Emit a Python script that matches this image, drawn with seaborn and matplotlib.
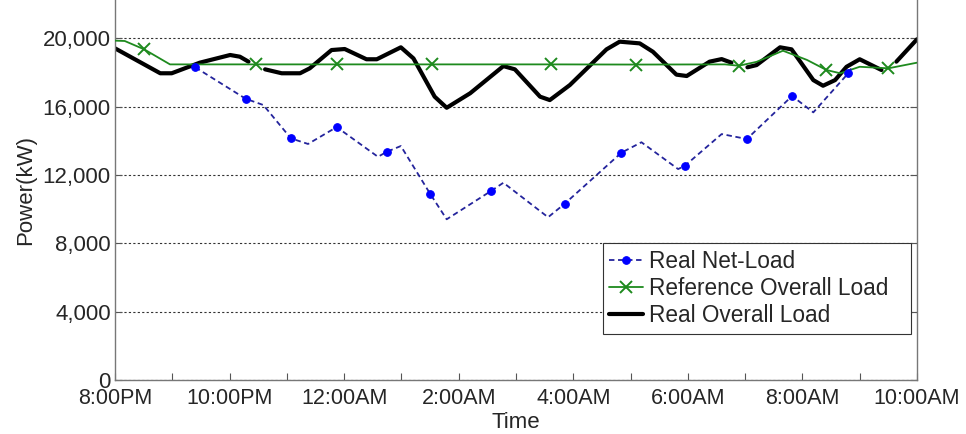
import numpy as np
import pandas as pd
import seaborn as sns
import matplotlib
matplotlib.use("Agg")
import matplotlib.pyplot as plt

# hours after 8:00PM, power in kW
net_hours = [1.40, 2.28, 2.59, 3.07, 3.37, 3.87, 4.59, 4.75, 4.99, 5.50, 5.79, 6.57,
             6.78, 7.56, 7.85, 8.84, 9.19, 9.83, 9.95, 10.59, 11.03, 11.82, 12.19,
             12.80, 12.88]
net_load = [18310, 16470, 16100, 14150, 13820, 14810, 13070, 13370, 13700, 10910,
            9410, 11080, 11550, 9530, 10320, 13310, 13920, 12350, 12550, 14400,
            14110, 16630, 15670, 17960, 18400]
net_marks = [0, 1, 3, 5, 7, 9, 11, 14, 15, 18, 20, 21, 23]

ref_hours = [0.0, 0.17, 0.51, 0.96, 2.47, 3.87, 5.53, 7.61, 9.09, 10.65, 10.89,
             11.20, 11.66, 12.08, 12.42, 12.66, 13.00, 13.50, 14.0]
ref_load = [19870, 19850, 19360, 18480, 18480, 18480, 18480, 18480, 18470, 18480,
            18400, 18630, 19280, 18740, 18150, 17960, 18340, 18250, 18580]
ref_marks = [2, 4, 5, 6, 7, 8, 10, 14, 17]

real_hours = [0.0, 0.79, 0.99, 1.48, 2.01, 2.18, 2.33,
              2.62, 2.91, 3.23, 3.40, 3.78, 4.01, 4.39, 4.57, 4.99, 5.21, 5.58, 5.79,
              6.20, 6.78, 6.98, 7.42, 7.59, 7.94, 8.58, 8.81, 9.16, 9.39, 9.80, 9.98,
              10.38, 10.59, 10.76,
              11.04, 11.20, 11.61, 11.81, 12.19, 12.36, 12.57, 12.77, 13.00, 13.38,
              13.64, 14.0]
real_load = [19420, 17960, 17960, 18580, 19030, 18930, 18640,
             18190, 17960, 17960, 18250, 19320, 19380, 18780, 18780, 19480, 18830,
             16590, 15940, 16790, 18380, 18190, 16590, 16390, 17270, 19360, 19810,
             19710, 19220, 17880, 17800, 18640, 18790, 18580,
             18310, 18440, 19480, 19360, 17560, 17230, 17560, 18340, 18780, 18150,
             18640, 19950]
# the black curve is broken where it runs under a cross marker
real_segment = [0] * 7 + [1] * 27 + [2] * 10 + [3] * 2

x_ticks = list(range(15))
x_labels = ["8:00PM", "", "10:00PM", "", "12:00AM", "", "2:00AM", "", "4:00AM", "",
            "6:00AM", "", "8:00AM", "", "10:00AM"]
y_ticks = [0, 4000, 8000, 12000, 16000, 20000]

GREEN = "#1e8a1e"

sns.set_style("white")
plt.rcParams["font.family"] = ["Liberation Sans", "DejaVu Sans"]

fig = plt.figure(figsize=(9.66, 4.34), dpi=100)
ax = fig.add_axes([115 / 966, 1 - 380 / 434, 802 / 966, 380 / 434])

net_df = pd.DataFrame({"h": net_hours, "p": net_load})
ref_df = pd.DataFrame({"h": ref_hours, "p": ref_load})
real_df = pd.DataFrame({"h": real_hours, "p": real_load, "seg": real_segment})

sns.lineplot(data=real_df, x="h", y="p", units="seg", estimator=None, sort=False,
             color="black", lw=3, ax=ax, zorder=2)
sns.lineplot(data=ref_df, x="h", y="p", sort=False, estimator=None, color=GREEN,
             lw=1.3, marker="x", markersize=9, markeredgewidth=1.4,
             markeredgecolor=GREEN, markerfacecolor=GREEN,
             markevery=ref_marks, ax=ax, zorder=3)
sns.lineplot(data=net_df, x="h", y="p", sort=False, estimator=None, color="#24249c",
             lw=1.3, linestyle=(0, (3, 2)), marker="o", markersize=5.5,
             markerfacecolor="blue", markeredgecolor="blue", markevery=net_marks,
             ax=ax, zorder=4)

lines = ax.get_lines()
n_real = len(set(real_segment))
h_real = lines[0]
h_ref = lines[n_real]
h_net = lines[n_real + 1]
leg = ax.legend([h_net, h_ref, h_real],
                ["Real Net-Load", "Reference Overall Load", "Real Overall Load"],
                loc="upper left", bbox_to_anchor=(0.608, 0.0, 0.385, 0.361),
                mode="expand", borderaxespad=0,
                fontsize=16.3, frameon=True, fancybox=False, framealpha=1,
                edgecolor="#333333", handlelength=1.5, handletextpad=0.25,
                labelspacing=0.18, borderpad=0.3)
leg.get_frame().set_linewidth(0.8)

ax.set_xlim(0, 14)
ax.set_ylim(0, 22250)
ax.set_xticks(x_ticks)
ax.set_xticklabels(x_labels, fontsize=15.5)
ax.set_yticks(y_ticks)
ax.set_yticklabels([f"{v:,}" for v in y_ticks], fontsize=16)
ax.set_xlabel("Time", fontsize=16, labelpad=2)
ax.set_ylabel("Power(kW)", fontsize=16, labelpad=5)

ax.yaxis.grid(True, linestyle=(0, (2, 2)), color="#333333", lw=0.8)
ax.xaxis.grid(False)
ax.set_axisbelow(True)
ax.tick_params(direction="in", length=5, width=0.8, color="#555555",
               right=True, bottom=True, left=True)
ax.tick_params(axis="x", pad=6)
ax.tick_params(axis="y", pad=3)
for side in ["left", "right", "bottom"]:
    ax.spines[side].set_color("#777777")
    ax.spines[side].set_linewidth(1)
ax.spines["top"].set_visible(False)

fig.savefig("out.png", dpi=100)
